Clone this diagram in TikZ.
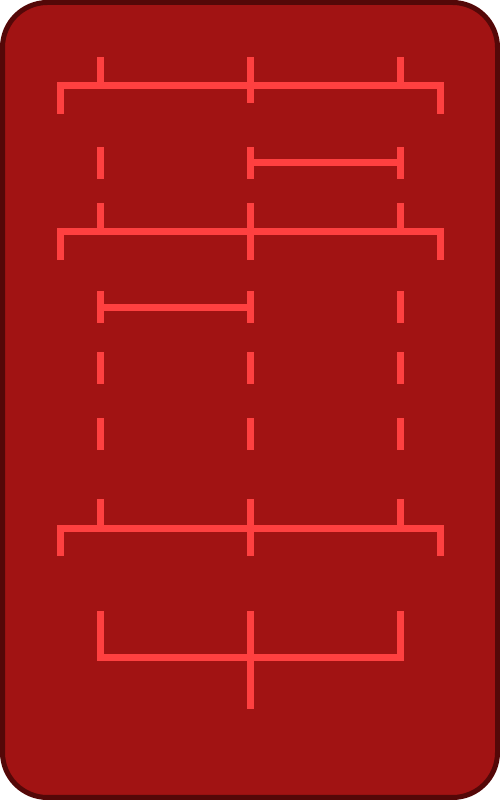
\documentclass[tikz,border=0pt]{standalone}
\usepackage{tikz}
\usepackage{xcolor}
\usetikzlibrary{calc}
\definecolor{cardRed}{RGB}{161,19,19}
\definecolor{cardEdge}{RGB}{84,8,8}
\definecolor{markRed}{RGB}{255,64,64}

\begin{document}
\begin{tikzpicture}[line cap=butt,line join=miter,
  tickline/.style={markRed,line width=0.14cm}]
  \useasboundingbox (0,0) rectangle (10,16);
  % la carte
  \draw[cardEdge,fill=cardRed,line width=0.1cm,rounded corners=0.9cm] (0.05,0.05) rectangle (9.95,15.95);
  % premiere accolade
  \draw[tickline] (1.2,13.72) -- (1.2,14.28) -- (8.8,14.28) -- (8.8,13.72);
  \draw[tickline] (2,14.86) -- (2,14.28);
  \draw[tickline] (5,14.86) -- (5,13.94);
  \draw[tickline] (8,14.86) -- (8,14.28);
  % tirets et segment de droite
  \draw[tickline] (2,13.06) -- (2,12.42);
  \draw[tickline] (5,13.06) -- (5,12.42);
  \draw[tickline] (8,13.06) -- (8,12.42);
  \draw[tickline] (5,12.74) -- (8,12.74);
  % deuxieme accolade
  \draw[tickline] (1.2,10.8) -- (1.2,11.36) -- (8.8,11.36) -- (8.8,10.8);
  \draw[tickline] (2,11.94) -- (2,11.36);
  \draw[tickline] (5,11.94) -- (5,10.8);
  \draw[tickline] (8,11.94) -- (8,11.36);
  % tirets et segment de gauche
  \draw[tickline] (2,10.18) -- (2,9.54);
  \draw[tickline] (5,10.18) -- (5,9.54);
  \draw[tickline] (8,10.18) -- (8,9.54);
  \draw[tickline] (2,9.85) -- (5,9.85);
  \draw[tickline] (2,8.96) -- (2,8.32);
  \draw[tickline] (5,8.96) -- (5,8.32);
  \draw[tickline] (8,8.96) -- (8,8.32);
  \draw[tickline] (2,7.64) -- (2,7.0);
  \draw[tickline] (5,7.64) -- (5,7.0);
  \draw[tickline] (8,7.64) -- (8,7.0);
  % troisieme accolade
  \draw[tickline] (1.2,4.88) -- (1.2,5.43) -- (8.8,5.43) -- (8.8,4.88);
  \draw[tickline] (2,6.02) -- (2,5.43);
  \draw[tickline] (5,6.02) -- (5,4.88);
  \draw[tickline] (8,6.02) -- (8,5.43);
  % fourche du bas
  \draw[tickline] (2,3.78) -- (2,2.84) -- (8,2.84) -- (8,3.78);
  \draw[tickline] (5,3.78) -- (5,1.82);
\end{tikzpicture}
\end{document}
